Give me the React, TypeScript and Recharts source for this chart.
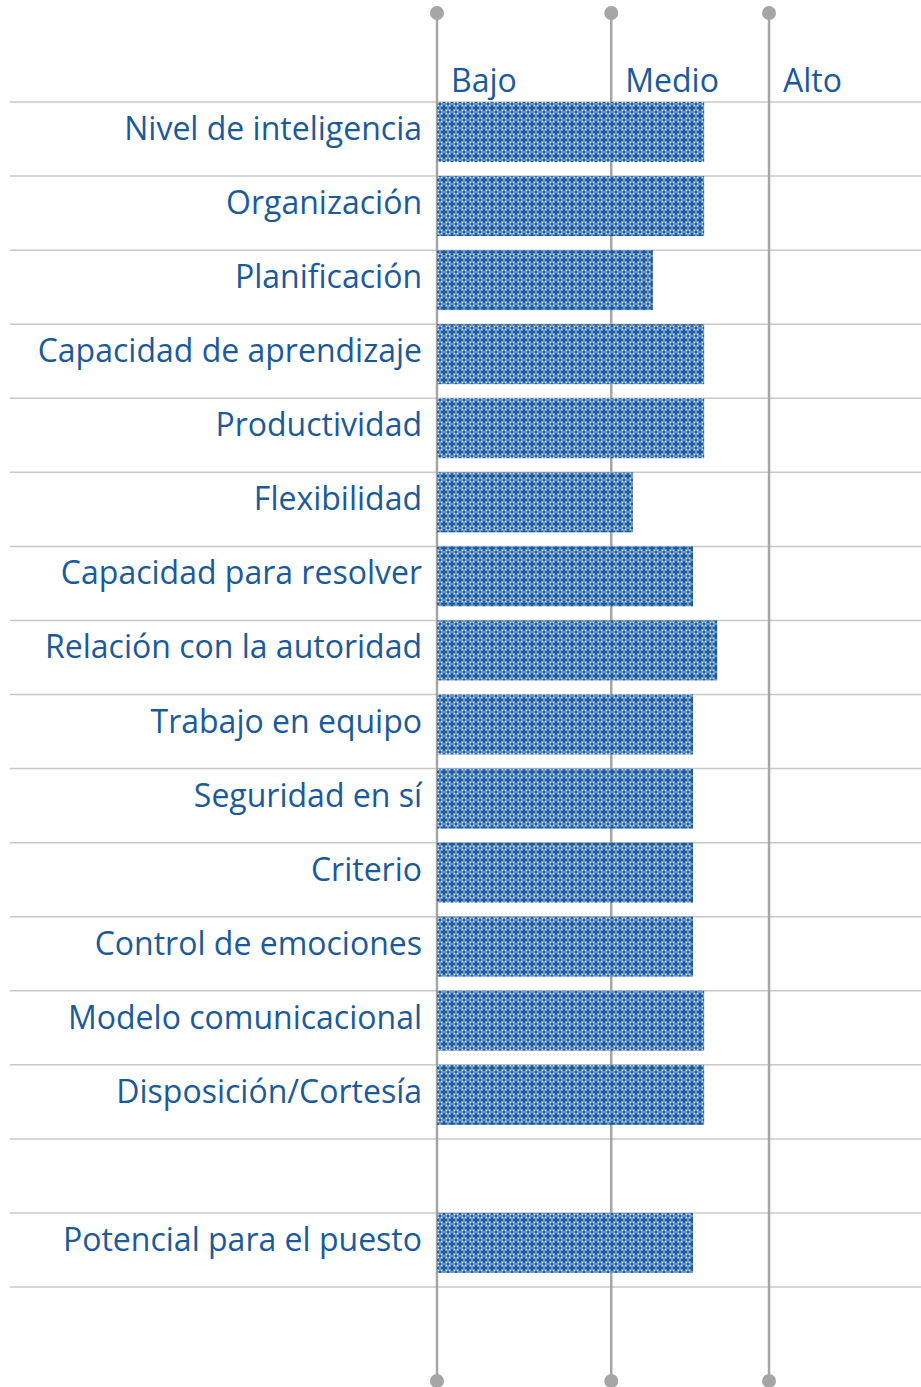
import {
  BarChart,
  Bar,
  XAxis,
  YAxis,
  CartesianGrid,
  ReferenceLine,
} from "recharts";

const categories = [
  "Nivel de inteligencia",
  "Organización",
  "Planificación",
  "Capacidad de aprendizaje",
  "Productividad",
  "Flexibilidad",
  "Capacidad para resolver",
  "Relación con la autoridad",
  "Trabajo en equipo",
  "Seguridad en sí",
  "Criterio",
  "Control de emociones",
  "Modelo comunicacional",
  "Disposición/Cortesía",
  "",
  "Potencial para el puesto",
];

const scores = [
  55.2, 55.2, 44.6, 55.2, 55.2, 40.5, 52.9, 57.9, 52.9, 52.9, 52.9, 52.9, 55.2,
  55.2, null, 52.9,
];

const levelNames = ["Bajo", "Medio", "Alto"];
const levelValues = [0, 36, 68.6];

const data = categories.map((name, i) => ({ name, score: scores[i] }));

const BLUE = "#1B5A9A";
const FONT = "'Open Sans', sans-serif";

const LabelTick = ({ x, y, payload }: any) => (
  <text
    x={x}
    y={y}
    dy={1}
    textAnchor="end"
    fill={BLUE}
    fontSize={32}
    fontFamily={FONT}
  >
    {payload.value}
  </text>
);

// pattern bar pushed to the top of its row
const PatternBar = (props: any) => {
  const { x, y, width, height } = props;
  if (!width || width <= 0) return null;
  return (
    <rect x={x} y={y - 7} width={width} height={height} fill="url(#crossHatch)" />
  );
};

const levelLine = (name: string) => (props: any) => {
  const { x1, y1, y2 } = props;
  const top = Math.min(y1, y2);
  const bottom = Math.max(y1, y2);
  return (
    <g>
      <line x1={x1} y1={top - 89} x2={x1} y2={bottom + 94} stroke="#A6A6A6" strokeWidth={2.5} />
      <circle cx={x1} cy={top - 89} r={7} fill="#A6A6A6" />
      <circle cx={x1} cy={bottom + 94} r={7} fill="#A6A6A6" />
      <text x={x1 + 14} y={top - 10} fill={BLUE} fontSize={32} fontFamily={FONT}>
        {name}
      </text>
    </g>
  );
};

export default function App() {
  return (
    <div style={{ position: "absolute", left: 0, top: 0 }}>
      <BarChart
        width={921}
        height={1387}
        data={data}
        layout="vertical"
        margin={{ top: 102, right: 0, bottom: 100, left: 0 }}
        barSize={60}
      >
        <defs>
          <pattern id="crossHatch" width={8} height={8} patternUnits="userSpaceOnUse">
            <rect width={8} height={8} fill="#6F98CC" />
            <rect x={3} y={1} width={2} height={6} fill="#1D5C9E" />
            <rect x={1} y={3} width={6} height={2} fill="#1D5C9E" />
            <rect x={0} y={0} width={1} height={1} fill="#1D5C9E" />
            <rect x={7} y={0} width={1} height={1} fill="#1D5C9E" />
            <rect x={0} y={7} width={1} height={1} fill="#1D5C9E" />
            <rect x={7} y={7} width={1} height={1} fill="#1D5C9E" />
            <rect x={1} y={1} width={1} height={1} fill="#DCE7F4" />
            <rect x={6} y={1} width={1} height={1} fill="#DCE7F4" />
            <rect x={1} y={6} width={1} height={1} fill="#DCE7F4" />
            <rect x={6} y={6} width={1} height={1} fill="#DCE7F4" />
          </pattern>
        </defs>
        <CartesianGrid
          x={10}
          width={911}
          vertical={false}
          stroke="#C8C8C8"
          strokeWidth={1.5}
          horizontalCoordinatesGenerator={({ offset }: any) =>
            categories
              .concat([""])
              .map((_, i) => offset.top + (i * offset.height) / categories.length)
          }
        />
        <XAxis type="number" domain={[0, 100]} hide />
        <YAxis
          type="category"
          dataKey="name"
          width={437}
          axisLine={false}
          tickLine={false}
          tickSize={0}
          tickMargin={15}
          interval={0}
          tick={<LabelTick />}
        />
        {levelValues.map((v, i) => (
          <ReferenceLine
            key={levelNames[i]}
            x={v}
            ifOverflow="visible"
            zIndex={100}
            shape={levelLine(levelNames[i])}
          />
        ))}
        <Bar
          dataKey="score"
          shape={<PatternBar />}
          isAnimationActive={false}
        />
      </BarChart>
    </div>
  );
}
